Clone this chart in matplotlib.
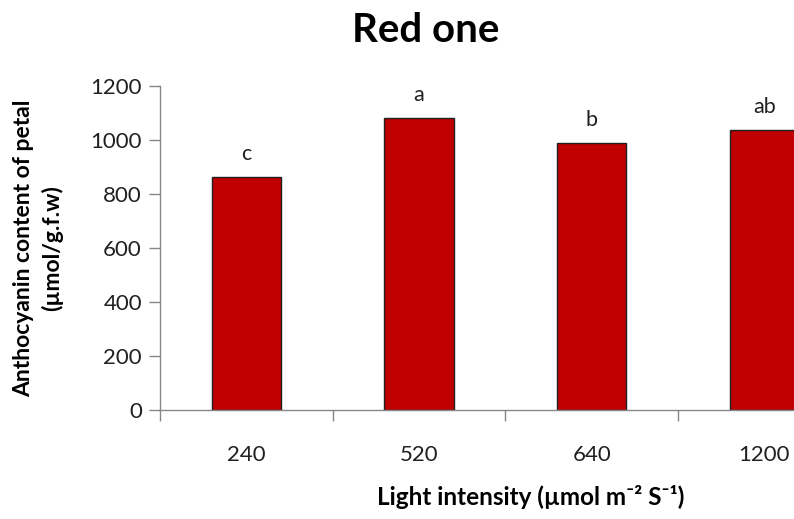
import numpy as np
import matplotlib
matplotlib.use('Agg')
import matplotlib.pyplot as plt

plt.rcParams['font.family'] = ['Lato', 'DejaVu Sans']

luz = ['240', '520', '640', '1200']
antocianina = [864, 1080, 990, 1037]
letras = ['c', 'a', 'b', 'ab']

cinza = '#868686'

fig = plt.figure(figsize=(7.94, 5.19), dpi=100)
ax = fig.add_axes([160 / 794, 1 - 410 / 519, 1 - 160 / 794, (410 - 86) / 519])

x = np.arange(len(luz))
barras = ax.bar(x, antocianina, width=0.4, color='#C00000', edgecolor='#202020', linewidth=1)

# letras de significancia acima das barras
for xi, v, l in zip(x, antocianina, letras):
    ax.annotate(l, (xi, v), xytext=(0, 23), textcoords='offset pixels',
                ha='center', va='center', fontsize=15.5, color='#202020')

ax.set_xlim(-0.5, 3.172)
ax.set_ylim(0, 1200)
ax.set_yticks(range(0, 1201, 200))

# ticks nas divisas das categorias, rotulos no centro
ax.set_xticks(x - 0.5)
ax.set_xticklabels([])
ax.set_xticks(x, minor=True)
ax.set_xticklabels(luz, minor=True)
ax.tick_params(axis='x', which='major', direction='out', length=8, color=cinza, width=1)
ax.tick_params(axis='x', which='minor', length=0, pad=25, labelsize=16, labelcolor='#202020')
ax.tick_params(axis='y', direction='out', length=8, color=cinza, width=1, pad=5,
               labelsize=16, labelcolor='#202020')

for s in ['top', 'right']:
    ax.spines[s].set_visible(False)
for s in ['left', 'bottom']:
    ax.spines[s].set_color(cinza)
    ax.spines[s].set_linewidth(1)

fig.text(426 / 794, 1 - 30 / 519, 'Red one', ha='center', va='center',
         fontsize=29, fontweight='bold')
fig.text(531 / 794, 1 - 497 / 519, 'Light intensity (µmol m⁻² S⁻¹)', ha='center', va='center',
         fontsize=17.5, fontweight='bold')
fig.text(38 / 794, 1 - 248 / 519, 'Anthocyanin content of petal\n(µmol/g.f.w)', ha='center',
         va='center', rotation=90, fontsize=16.5, fontweight='bold', linespacing=1.35)

plt.savefig('out.png', dpi=100)
